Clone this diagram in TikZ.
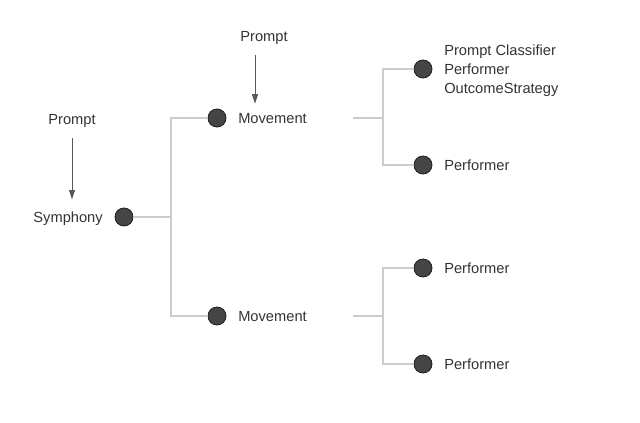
\documentclass[tikz,border=0pt]{standalone}
\usepackage{fontspec}
\setmainfont{Liberation Sans}
\usetikzlibrary{positioning,arrows.meta}

\begin{document}
\begin{tikzpicture}[x=0.75pt,y=-0.75pt,
  dot/.style={circle,draw=black!88,fill=black!73,line width=0.6pt,minimum size=13.5pt,inner sep=0pt},
  lbl/.style={font=\fontsize{11}{13.9}\selectfont,text=black!80,inner sep=0pt,yshift=-1.3pt},
  wire/.style={draw=black!20,line width=0.8pt},
  feed/.style={draw=black!65,line width=0.7pt,-{Triangle[length=7pt,width=4.5pt]}}]
  \useasboundingbox (0,0) rectangle (640,422);
  % root
  \node[dot] (sym) at (124,217) {};
  \node[lbl,anchor=mid east] (symt) at (103,217) {Symphony};
  \node[lbl] (p1) at (72,119) {Prompt};
  \draw[feed,shorten <=8pt,shorten >=9pt] (p1.south) -- (p1.south |- symt.north);
  % movements
  \node[dot] (mv1) at (217,118) {};
  \node[dot] (mv2) at (217,316) {};
  \node[lbl,anchor=mid west] (mv1t) at (238,118) {Movement};
  \node[lbl,anchor=mid west] (mv2t) at (238,316) {Movement};
  \node[lbl] (p2) at (264,36) {Prompt};
  \draw[feed,shorten <=8pt,shorten >=7pt] ([xshift=-6.75pt]p2.south) -- ([xshift=-6.75pt]p2.south |- mv1t.north);
  \coordinate (j1) at (171,217);
  \draw[wire] (sym) -- (j1) |- (mv1);
  \draw[wire] (j1) |- (mv2);
  % performers
  \node[dot] (pf1) at (423,69) {};
  \node[dot] (pf2) at (423,165) {};
  \node[dot] (pf3) at (423,268) {};
  \node[dot] (pf4) at (423,364) {};
  \node[lbl,anchor=west,align=left] (pf1t) at (444,69) {Prompt Classifier\\Performer\\OutcomeStrategy};
  \node[lbl,anchor=mid west] (pf2t) at (444,165) {Performer};
  \node[lbl,anchor=mid west] (pf3t) at (444,268) {Performer};
  \node[lbl,anchor=mid west] (pf4t) at (444,364) {Performer};
  \coordinate (s1) at (353,118);
  \coordinate (k1) at (383,118);
  \coordinate (s2) at (353,316);
  \coordinate (k2) at (383,316);
  \draw[wire] (s1) -- (k1) |- (pf1);
  \draw[wire] (k1) |- (pf2);
  \draw[wire] (s2) -- (k2) |- (pf3);
  \draw[wire] (k2) |- (pf4);
\end{tikzpicture}
\end{document}
